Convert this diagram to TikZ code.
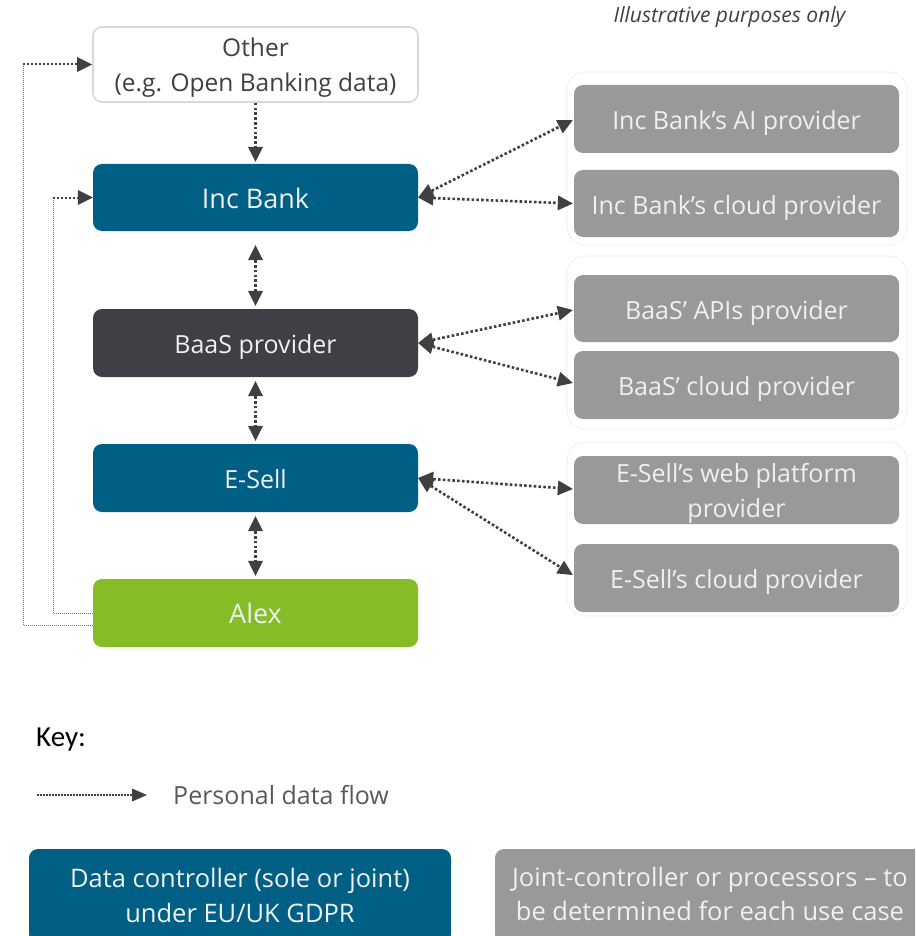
\documentclass[tikz,border=0pt]{standalone}
\usepackage{fontspec}
\setmainfont{Open Sans}
\newfontfamily\keyfont{Carlito}
\usetikzlibrary{arrows.meta}

\definecolor{ctrlblue}{HTML}{005F85}
\definecolor{baasgrey}{HTML}{3F4045}
\definecolor{alexgreen}{HTML}{86BC25}
\definecolor{procgrey}{HTML}{97999B}
\definecolor{flowgrey}{HTML}{404040}
\definecolor{othergrey}{HTML}{D9D9D9}
\definecolor{keytext}{HTML}{595959}

% two-line labels, set on the baseline of their last line
\newcommand{\twolines}[2]{\begin{tabular}[b]{@{}c@{}}#1\\#2\end{tabular}}

\tikzset{
  party/.style={rounded corners=9pt, minimum width=325pt, inner sep=0pt,
    text=white!94!black, align=center, font=\fontsize{25}{35}\selectfont,
    text height=21pt, text depth=0pt},
  pairlabel/.style={text height=55pt, text depth=0pt},
  proc/.style={party, fill=procgrey, minimum width=325pt},
  group/.style={draw=black!18, densely dotted, line width=0.6pt,
    rounded corners=18pt, minimum width=340pt, inner sep=0pt},
  flow/.style={draw=flowgrey, line width=2.6pt, dash pattern=on 2.6pt off 2.2pt,
    {Triangle[length=15pt,width=15pt,fill=flowgrey,line width=0pt]}-{Triangle[length=15pt,width=15pt,fill=flowgrey,line width=0pt]}},
  oneway/.style={draw=flowgrey, line width=2.6pt, dash pattern=on 2.6pt off 2.2pt,
    -{Triangle[length=15pt,width=15pt,fill=flowgrey,line width=0pt]}},
  loopline/.style={draw=black!55, line width=0.9pt, dash pattern=on 1pt off 1pt},
  loophead/.style={draw=flowgrey, line width=2pt, dash pattern=on 2pt off 2pt,
    -{Triangle[length=15pt,width=15pt,fill=flowgrey,line width=0pt]}},
}

\begin{document}
\begin{tikzpicture}[x=1pt, y=-1pt]
\useasboundingbox (0,0) rectangle (915,936);
\clip (0,0) rectangle (915,936);

% note
\node[font=\fontsize{21}{24}\selectfont\itshape, text=flowgrey] (note) at (729.5,17) {Illustrative purposes only};

% main chain
\node[party, pairlabel, draw=othergrey, line width=1.6pt, fill=white, text=flowgrey,
      minimum height=75pt, font=\fontsize{24.5}{35}\selectfont] (other) at (255.5,64.5)
      {\twolines{Other}{(e.g. Open Banking data)}};
\node[party, fill=ctrlblue, minimum height=67pt, font=\fontsize{27}{35}\selectfont] (inc) at (255.5,197.5) {Inc Bank};
\node[party, fill=baasgrey, minimum height=68pt] (baas) at (255.5,343) {BaaS provider};
\node[party, fill=ctrlblue, minimum height=68pt] (esell) at (255.5,478) {E-Sell};
\node[party, fill=alexgreen, minimum height=68pt, font=\fontsize{27}{35}\selectfont] (alex) at (255.5,613) {Alex};

% processor groups
\node[group, minimum height=173pt] (g1) at (737,158.5) {};
\node[group, minimum height=173pt] (g2) at (737,342.5) {};
\node[group, minimum height=174pt] (g3) at (737,529) {};

\node[proc, minimum height=68pt] (ai) at (736.5,119) {Inc Bank’s AI provider};
\node[proc, minimum height=67pt] (ibcloud) at (736.5,203.5) {Inc Bank’s cloud provider};
\node[proc, minimum height=67pt] (apis) at (736.5,308.5) {BaaS’ APIs provider};
\node[proc, minimum height=68pt] (baascloud) at (736.5,385) {BaaS’ cloud provider};
\node[proc, pairlabel, text height=54pt, minimum height=68pt] (web) at (736.5,490) {\twolines{E-Sell’s web platform}{provider}};
\node[proc, minimum height=68pt] (escloud) at (736.5,578) {E-Sell’s cloud provider};

% vertical flows
\draw[oneway] (other.south) -- ([yshift=2pt]inc.north);
\draw[flow] ([yshift=-14pt]inc.south) -- ([yshift=3pt]baas.north);
\draw[flow] ([yshift=-4pt]baas.south) -- ([yshift=3pt]esell.north);
\draw[flow] ([yshift=-4pt]esell.south) -- ([yshift=3pt]alex.north);

% flows to processors
\draw[flow] (inc.east) -- ([xshift=-1pt,yshift=-1pt]ai.west);
\draw[flow] (inc.east) -- ([xshift=-1pt]ibcloud.west);
\draw[flow] (baas.east) -- ([xshift=-1pt,yshift=-1.5pt]apis.west);
\draw[flow] (baas.east) -- ([xshift=-1pt,yshift=2pt]baascloud.west);
\draw[flow] (esell.east) -- ([xshift=-1pt,yshift=1pt]web.west);
\draw[flow] (esell.east) -- ([xshift=-1pt,yshift=3pt]escloud.west);

% return loops from Alex
\coordinate (outer) at (23,64.5);
\coordinate (inner) at (53,197.5);
\draw[loopline] ([yshift=-12pt]alex.west) -| (outer);
\draw[loophead] (outer) -- (other.west);
\draw[loopline] (alex.west) -| (inner);
\draw[loophead] (inner) -- (inc.west);

% key
\node[anchor=west, font=\keyfont\fontsize{29}{32}\selectfont, text=black, inner sep=0pt] (key) at (36,740) {Key:};
\node[anchor=west, font=\fontsize{25}{30}\selectfont, text=keytext, inner sep=0pt] (pdf) at (173,795) {Personal data flow};
\coordinate (keystart) at (37,795);
\draw[draw=flowgrey, line width=1.8pt, dash pattern=on 1.8pt off 1.2pt,
  -{Triangle[length=15pt,width=13pt,fill=flowgrey,line width=0pt]}]
  (keystart) -- ([xshift=-26pt]pdf.west);

\node[party, pairlabel, text height=52pt, fill=ctrlblue, minimum width=422pt, minimum height=94pt,
      font=\fontsize{25.5}{35}\selectfont] (ctrlkey) at (240,896)
      {\twolines{Data controller (sole or joint)}{under EU/UK GDPR}};
\node[party, pairlabel, text height=48pt, fill=procgrey, minimum width=430pt, minimum height=94pt,
      font=\fontsize{25.5}{34}\selectfont] (prockey) at (710,896)
      {\twolines{Joint-controller or processors -- to}{be determined for each use case}};
\end{tikzpicture}
\end{document}
